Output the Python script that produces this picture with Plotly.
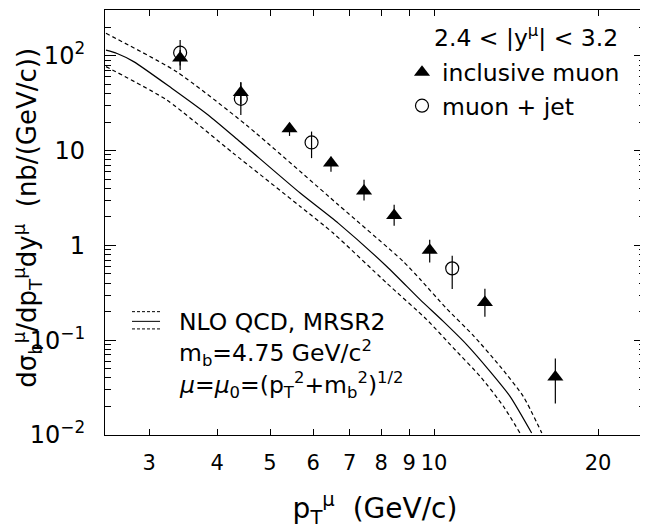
import plotly.graph_objects as go

# ---------------- data ----------------
# inclusive muon (filled triangles)
pt_incl = [3.42, 4.42, 5.43, 6.47, 7.44, 8.45, 9.82, 12.4, 16.7]
sig_incl = [95, 41, 17.0, 7.4, 3.75, 2.07, 0.89, 0.25, 0.041]
incl_hi = [115, 53, 19.5, 8.6, 4.92, 2.69, 1.15, 0.35, 0.064]
incl_lo = [71, 31, 14.3, 6.0, 2.98, 1.61, 0.66, 0.177, 0.0215]

# muon + jet (open circles)
pt_jet = [3.42, 4.42, 5.96, 10.8]
sig_jet = [108, 35.2, 12.2, 0.573]
jet_hi = [147, 52, 15.9, 0.779]
jet_lo = [79, 23.8, 8.34, 0.347]

# NLO QCD central prediction and band edges
nlo_pt = [2.5, 2.62, 2.81, 3.3, 3.85, 4.4, 5.68, 6.67, 8.19, 9.43, 10.4, 11.48, 12.67, 13.79, 15.11]
nlo_central = [115, 106, 87, 45.6, 23.8, 12.5, 3.57, 1.72, 0.60, 0.268, 0.158, 0.090, 0.047, 0.0256, 0.0105]
nlo_up_pt = [2.5, 3.37, 4.53, 6.67, 8.78, 9.43, 10.55, 11.81, 13.22, 14.58, 15.77]
nlo_up = [173, 68, 18.5, 2.69, 0.678, 0.44, 0.215, 0.112, 0.0531, 0.0256, 0.0105]
nlo_dn_pt = [2.5, 3.23, 4.28, 5.68, 6.53, 8.19, 9.70, 10.85, 12.15, 13.41, 14.38]
nlo_dn = [77, 34.3, 9.41, 2.58, 1.35, 0.40, 0.165, 0.083, 0.0417, 0.0201, 0.0105]

x_tickvals = [3, 4, 5, 6, 7, 8, 9, 10, 20]
x_ticktext = ["3", "4", "5", "6", "7", "8", "9", "10", "20"]
y_tickvals = [0.01, 0.1, 1, 10, 100]
y_ticktext = ["10<sup>\u22122</sup>", "10<sup>\u22121</sup>", "1", "10", "10<sup>2</sup>"]

FONT = "DejaVu Sans"
BLACK = "black"

fig = go.Figure()

dash = "4px,3px"
for xs, ys, d in [(nlo_up_pt, nlo_up, dash), (nlo_dn_pt, nlo_dn, dash), (nlo_pt, nlo_central, "solid")]:
    fig.add_trace(go.Scatter(x=xs, y=ys, mode="lines", showlegend=False,
                             line=dict(color=BLACK, width=1.2, dash=d, shape="spline", smoothing=0.6),
                             hoverinfo="skip"))

fig.add_trace(go.Scatter(
    x=pt_jet, y=sig_jet, mode="markers", name="muon + jet", legendrank=2,
    marker=dict(symbol="circle-open", size=13, color=BLACK, line=dict(width=1.2, color=BLACK)),
    error_y=dict(type="data", symmetric=False,
                 array=[h - v for h, v in zip(jet_hi, sig_jet)],
                 arrayminus=[v - l for v, l in zip(sig_jet, jet_lo)],
                 color=BLACK, thickness=1.2, width=0)))

fig.add_trace(go.Scatter(
    x=pt_incl, y=sig_incl, mode="markers", name="inclusive muon", legendrank=1,
    marker=dict(symbol="triangle-up", size=14, color=BLACK, line=dict(width=0)),
    error_y=dict(type="data", symmetric=False,
                 array=[h - v for h, v in zip(incl_hi, sig_incl)],
                 arrayminus=[v - l for v, l in zip(sig_incl, incl_lo)],
                 color=BLACK, thickness=1.2, width=0)))

minor_y = [k * 10 ** e for e in range(-2, 3) for k in range(2, 10) if k * 10 ** e < 300]

fig.update_layout(
    width=640, height=521,
    margin=dict(l=97, r=3, t=2, b=94),
    paper_bgcolor="white", plot_bgcolor="white",
    font=dict(family=FONT, size=23, color=BLACK),
    showlegend=True,
    legend=dict(x=0.55, y=0.905, xanchor="left", yanchor="top",
                bgcolor="rgba(0,0,0,0)", borderwidth=0,
                font=dict(family=FONT, size=23.5, color=BLACK),
                itemwidth=30),
    xaxis=dict(type="log", range=[0.3961, 1.3873], automargin=False,
               tickmode="array", tickvals=x_tickvals, ticktext=x_ticktext,
               ticks="inside", ticklen=6, tickwidth=1, tickcolor=BLACK,
               showline=True, linecolor=BLACK, linewidth=1.2, mirror="ticks",
               showgrid=False, zeroline=False,
               tickfont=dict(family=FONT, size=21, color=BLACK),
               ticklabelstandoff=9,
               title=dict(text="p<sub>T</sub><sup>\u03bc</sup>  (GeV/c)",
                          font=dict(family=FONT, size=28, color=BLACK), standoff=28)),
    yaxis=dict(type="log", range=[-2, 2.484], automargin=False,
               tickmode="array", tickvals=y_tickvals, ticktext=y_ticktext,
               ticks="inside", ticklen=11, tickwidth=1, tickcolor=BLACK,
               minor=dict(tickmode="array", tickvals=minor_y, ticks="inside", ticklen=6,
                          tickwidth=1, tickcolor=BLACK, showgrid=False),
               showline=True, linecolor=BLACK, linewidth=1.2, mirror="ticks",
               showgrid=False, zeroline=False,
               tickfont=dict(family=FONT, size=24, color=BLACK),
               ticklabelstandoff=14),
)

# y-axis title
fig.add_annotation(xref="paper", yref="paper", x=-0.1444, y=0.511, xanchor="center", yanchor="middle",
                   textangle=-90, showarrow=False,
                   text="d\u03c3<sub>b</sub><sup>\u03bc</sup>/dp<sub>T</sub><sup>\u03bc</sup>dy<sup>\u03bc</sup>  (nb/(GeV/c))",
                   font=dict(family=FONT, size=26, color=BLACK))

# header of the data legend
fig.add_annotation(xref="paper", yref="paper", x=0.9537, y=0.9365, xanchor="right", yanchor="middle",
                   text="2.4 < |y<sup>\u03bc</sup>| < 3.2", showarrow=False,
                   font=dict(family=FONT, size=23.5, color=BLACK))

# theory key (three line samples + text)
for yk, d in [(0.2902, "dot"), (0.2674, "solid"), (0.2496, "dot")]:
    fig.add_shape(type="line", xref="paper", yref="paper", x0=0.05, x1=0.1019, y0=yk, y1=yk,
                  line=dict(color=BLACK, width=1, dash=("3px,2px" if d == "dot" else "solid")))

key_lines = ["NLO QCD, MRSR2",
             "m<sub>b</sub>=4.75 GeV/c<sup>2</sup>",
             "<i>\u03bc</i>=<i>\u03bc</i><sub>0</sub>=(p<sub>T</sub><sup>2</sup>+m<sub>b</sub><sup>2</sup>)<sup>1/2</sup>"]
for txt, yk in zip(key_lines, [0.2667, 0.1939, 0.1187]):
    fig.add_annotation(xref="paper", yref="paper", x=0.1333, y=yk, xanchor="left", yanchor="middle",
                       text=txt, showarrow=False, font=dict(family=FONT, size=23.5, color=BLACK))

fig.write_html("out.html")
